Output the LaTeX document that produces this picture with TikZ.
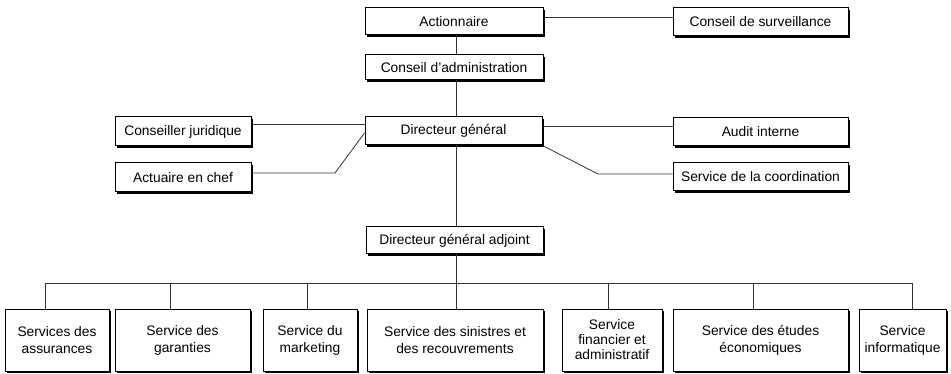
\documentclass[tikz,border=0pt]{standalone}
\usepackage{fontspec}
\setmainfont{Liberation Sans}
\usetikzlibrary{shadows}
\tikzset{
  box/.style={draw=black, line width=1pt, fill=white, inner sep=0pt, align=center,
    font=\fontsize{13.8}{17}\selectfont,
    drop shadow={shadow xshift=1.6pt, shadow yshift=-1.6pt, fill=black, opacity=1}},
  conn/.style={draw=black!80, line width=0.8pt},
}
\begin{document}
\begin{tikzpicture}[x=1pt,y=-1pt]
\useasboundingbox[fill=white] (0,0) rectangle (951,374);
% top
\node[box, minimum width=178pt, minimum height=27pt] (act) at (454,21.5) {Actionnaire};
\node[box, minimum width=175pt, minimum height=28pt] (cs) at (760.5,22) {Conseil de surveillance};
\node[box, minimum width=178pt, minimum height=25pt] (ca) at (454,67.5) {Conseil d’administration};
% middle
\node[box, minimum width=177pt, minimum height=28pt] (dg) at (453.5,131) {Directeur général};
\node[box, minimum width=136pt, minimum height=29pt] (cj) at (183,131.5) {Conseiller juridique};
\node[box, minimum width=136pt, minimum height=29pt] (ac) at (183,177.5) {Actuaire en chef};
\node[box, minimum width=175pt, minimum height=28pt] (ai) at (760.5,132) {Audit interne};
\node[box, minimum width=175pt, minimum height=28pt] (sc) at (760.5,177) {Service de la coordination};
\node[box, minimum width=177pt, minimum height=27pt] (dga) at (454.5,240.5) {Directeur général adjoint};
% bottom
\tikzset{bbox/.style={box, minimum height=62pt}}
\node[bbox, minimum width=104pt] (b1) at (57,340) {Services des\\assurances};
\node[bbox, minimum width=135pt] (b2) at (182.5,340) {Service des\\garanties};
\node[bbox, minimum width=94pt] (b3) at (310,340) {Service du\\marketing};
\node[bbox, minimum width=176pt] (b4) at (455,340) {Service des sinistres et\\des recouvrements};
\node[bbox, minimum width=100pt, font=\fontsize{13.8}{15}\selectfont] (b5) at (612,340) {Service\\financier et\\administratif};
\node[bbox, minimum width=175pt] (b6) at (760.5,340) {Service des études\\économiques};
\node[bbox, minimum width=87pt] (b7) at (902.5,340) {Service\\informatique};
% connectors
\coordinate (c1) at (45,283);
\coordinate (c2) at (170,283);
\coordinate (c3) at (307,283);
\coordinate (c4) at (456,283);
\coordinate (c5) at (608,283);
\coordinate (c6) at (753,283);
\coordinate (c7) at (912,283);
\coordinate (ka) at (335,173);
\coordinate (ks) at (598,174);
\draw[conn] ([yshift=4.5pt]act.east) -- ([yshift=4.5pt]act.east -| cs.west);
\draw[conn] (act.south -| c4) -- (ca.north -| c4);
\draw[conn] (ca.south -| c4) -- (dg.north -| c4);
\draw[conn] (dg.south -| c4) -- (dga.north -| c4);
\draw[conn] (dga.south -| c4) -- (c4);
\draw[conn] ([yshift=7.5pt]cj.east) -- ([yshift=7.5pt]cj.east -| dg.west);
\draw[conn] ([yshift=4.5pt]ac.east) -- (ka) -- ([yshift=-2pt]dg.west);
\draw[conn] ([yshift=5pt]dg.east) -- ([yshift=5pt]dg.east -| ai.west);
\draw[conn] (dg.south east) -- (ks) -- (ks -| sc.west);
\draw[conn] (c1) -- (c7);
\draw[conn] (c1) -- (c1 |- b1.north);
\draw[conn] (c2) -- (c2 |- b2.north);
\draw[conn] (c3) -- (c3 |- b3.north);
\draw[conn] (c4) -- (c4 |- b4.north);
\draw[conn] (c5) -- (c5 |- b5.north);
\draw[conn] (c6) -- (c6 |- b6.north);
\draw[conn] (c7) -- (c7 |- b7.north);
\end{tikzpicture}
\end{document}
